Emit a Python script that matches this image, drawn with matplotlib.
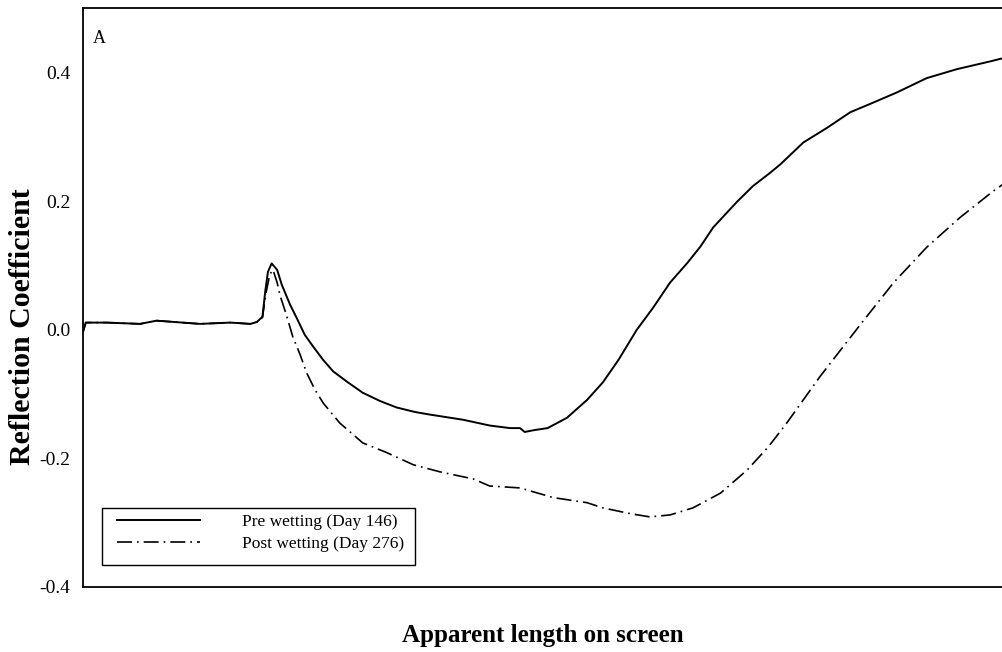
import matplotlib.pyplot as plt
from matplotlib.patches import Rectangle

plt.rcParams['font.family'] = ['Liberation Serif', 'DejaVu Serif']

# apparent length (arbitrary units along the screen trace)
x_pre = [0.0, 0.3, 2.6, 6.2, 8.0, 12.7, 16.0, 18.2, 18.9, 19.5, 19.8, 20.1, 20.5, 21.1,
         21.6, 22.5, 23.3, 24.1, 25.0, 26.1, 27.2, 28.8, 30.4, 32.3, 34.1, 36.1, 37.7,
         41.3, 44.2, 46.4, 47.5, 48.0, 49.1, 50.5, 52.6, 54.8, 56.5, 58.2, 60.2, 61.96,
         63.8, 65.7, 67.1, 68.5, 71.1, 72.8, 74.7, 75.8, 78.3, 80.9, 83.4, 85.9, 88.5,
         91.7, 95.0, 98.6, 100.0]
y_pre = [-0.003, 0.011, 0.011, 0.009, 0.014, 0.009, 0.011, 0.009, 0.012, 0.020, 0.059,
         0.090, 0.103, 0.093, 0.070, 0.039, 0.016, -0.008, -0.026, -0.047, -0.065, -0.082,
         -0.098, -0.111, -0.121, -0.128, -0.132, -0.140, -0.149, -0.153, -0.153, -0.159,
         -0.156, -0.153, -0.137, -0.109, -0.082, -0.047, 0.0, 0.034, 0.073, 0.104, 0.129,
         0.159, 0.199, 0.223, 0.244, 0.257, 0.291, 0.314, 0.338, 0.353, 0.369, 0.391,
         0.405, 0.417, 0.422]

x_post = [0.0, 0.3, 2.6, 6.2, 8.0, 12.7, 16.0, 18.2, 18.9, 19.5, 19.9, 20.3, 20.65, 21.1,
          21.4, 22.1, 22.8, 23.6, 24.3, 25.2, 26.1, 27.9, 30.4, 33.0, 35.9, 38.8, 42.4,
          44.2, 47.5, 51.1, 54.8, 56.5, 59.5, 61.6, 63.8, 66.3, 69.3, 72.2, 74.5, 76.5,
          80.1, 84.5, 88.1, 91.7, 95.3, 98.9, 100.0]
y_post = [-0.003, 0.011, 0.011, 0.009, 0.014, 0.009, 0.011, 0.009, 0.012, 0.019, 0.058,
          0.086, 0.093, 0.073, 0.054, 0.023, -0.011, -0.039, -0.067, -0.093, -0.114,
          -0.145, -0.176, -0.191, -0.210, -0.221, -0.232, -0.243, -0.246, -0.261, -0.269,
          -0.277, -0.286, -0.291, -0.288, -0.277, -0.254, -0.218, -0.182, -0.145, -0.073,
          0.008, 0.073, 0.128, 0.174, 0.215, 0.226]

yticks = [-0.4, -0.2, 0.0, 0.2, 0.4]

fig = plt.figure(figsize=(10.03, 6.52), dpi=100)
ax = fig.add_axes([0.0828, 0.0997, 0.9172, 0.888])

ax.plot(x_pre, y_pre, color='black', lw=1.4, label='Pre wetting (Day 146)')
ax.plot(x_post, y_post, color='black', lw=1.2, dashes=(9, 3, 1, 3),
        label='Post wetting (Day 276)')

ax.set_xlim(0, 100)
ax.set_ylim(-0.4, 0.5)
ax.set_xticks([])
ax.set_yticks(yticks)
ax.set_yticklabels([f'{v:.1f}' for v in yticks])
ax.tick_params(axis='y', length=0, pad=9, labelsize=14)
ax.spines['right'].set_visible(False)
for s in ['left', 'top', 'bottom']:
    ax.spines[s].set_linewidth(1.3)

ax.text(0.011, 0.948, 'A', transform=ax.transAxes, fontsize=13, va='center', ha='left')

ax.set_ylabel('Reflection Coefficient', fontsize=21.5, fontweight='bold')
ax.yaxis.set_label_coords(-0.051, 0.45)
ax.set_xlabel('Apparent length on screen', fontsize=18, fontweight='bold', labelpad=27)

# legend entries without frame, box drawn separately for wider side margins
leg = ax.legend(loc='lower left', bbox_to_anchor=(0.0267, 0.044), borderaxespad=0,
                fontsize=12.5, handlelength=4.8, handletextpad=2.4, borderpad=0.55,
                labelspacing=0.32, frameon=False)
ax.add_patch(Rectangle((0.0207, 0.038), 0.340, 0.0984, transform=ax.transAxes,
                       facecolor='white', edgecolor='black', lw=1.0, zorder=4))
leg.set_zorder(5)

fig.savefig('out.png', dpi=100)
